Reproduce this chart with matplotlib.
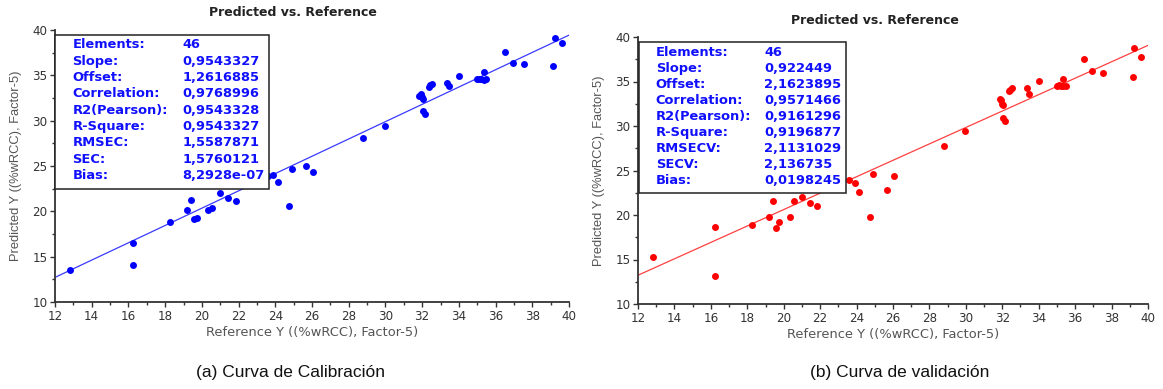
import numpy as np
import matplotlib.pyplot as plt
from matplotlib.patches import Rectangle
from matplotlib.ticker import MultipleLocator

# Valores de referencia (comunes a las dos curvas)
ref_y = [12.8, 16.25, 16.25, 18.25, 19.2, 19.4, 19.55, 19.75, 20.35, 20.55,
         21.0, 21.45, 21.85, 23.6, 23.9, 24.15, 24.75, 24.9, 25.65, 26.05,
         28.8, 29.95, 31.85, 31.95, 32.0, 32.05, 32.05, 32.15, 32.35, 32.45,
         32.55, 33.35, 33.45, 34.0, 35.0, 35.1, 35.2, 35.35, 35.35, 35.5,
         36.5, 36.95, 37.55, 39.15, 39.25, 39.6]

# Prediccion en calibracion
pred_cal = [13.5, 16.5, 14.1, 18.8, 20.1, 21.3, 19.15, 19.25, 20.2, 20.35,
            22.05, 21.45, 21.1, 23.9, 24.0, 23.2, 20.6, 24.65, 25.0, 24.35,
            28.1, 29.4, 32.75, 32.9, 32.6, 32.4, 31.05, 30.7, 33.7, 33.9,
            34.05, 34.2, 33.8, 34.95, 34.6, 34.65, 34.55, 35.35, 34.5, 34.6,
            37.55, 36.4, 36.25, 36.05, 39.1, 38.6]

# Prediccion en validacion
pred_val = [15.3, 18.65, 13.15, 18.9, 19.8, 21.6, 18.5, 19.2, 19.8, 21.6,
            22.0, 21.4, 21.0, 23.95, 23.55, 22.55, 19.75, 24.6, 22.8, 24.35,
            27.75, 29.4, 33.0, 32.9, 32.5, 32.35, 30.9, 30.6, 33.9, 34.1,
            34.3, 34.3, 33.65, 35.1, 34.55, 34.6, 34.5, 35.3, 34.45, 34.45,
            37.55, 36.15, 36.0, 35.45, 38.75, 37.8]

stat_names_cal = ['Elements:', 'Slope:', 'Offset:', 'Correlation:', 'R2(Pearson):',
                  'R-Square:', 'RMSEC:', 'SEC:', 'Bias:']
stat_vals_cal = ['46', '0,9543327', '1,2616885', '0,9768996', '0,9543328',
                 '0,9543327', '1,5587871', '1,5760121', '8,2928e-07']
stat_names_val = ['Elements:', 'Slope:', 'Offset:', 'Correlation:', 'R2(Pearson):',
                  'R-Square:', 'RMSECV:', 'SECV:', 'Bias:']
stat_vals_val = ['46', '0,922449', '2,1623895', '0,9571466', '0,9161296',
                 '0,9196877', '2,1131029', '2,136735', '0,0198245']

slope_cal, offset_cal = 0.9543327, 1.2616885
slope_val, offset_val = 0.922449, 2.1623895

fig = plt.figure(figsize=(11.63, 3.89), dpi=100)


def panel(rect, pred, slope, offset, dot_col, line_col, names, vals, box, title_xy, caption, cap_x):
    ax = fig.add_axes(rect)
    ax.set_xlim(12, 40)
    ax.set_ylim(10, 40)
    xl = np.array([12, 40])
    ax.plot(xl, slope * xl + offset, color=line_col, lw=0.9, zorder=2)
    ax.plot(ref_y, pred, 'o', color=dot_col, ms=5, mec='none', zorder=3)

    for s in ['top', 'right']:
        ax.spines[s].set_visible(False)
    for s in ['left', 'bottom']:
        ax.spines[s].set_color('#333333')
        ax.spines[s].set_linewidth(1.3)
    ax.xaxis.set_major_locator(MultipleLocator(2))
    ax.xaxis.set_minor_locator(MultipleLocator(1))
    ax.yaxis.set_major_locator(MultipleLocator(5))
    ax.yaxis.set_minor_locator(MultipleLocator(2.5))
    ax.tick_params(which='major', direction='out', length=3.5, width=1, colors='#333333',
                   labelsize=8.6, pad=2)
    ax.tick_params(which='minor', direction='out', length=2.5, width=1, colors='#333333')

    ax.set_xlabel('Reference Y ((%wRCC), Factor-5)', fontsize=9.4, color='#555555', labelpad=2.5)
    ax.set_ylabel('Predicted Y ((%wRCC), Factor-5)', fontsize=9.3, color='#555555',
                  family='Liberation Sans')
    ax.yaxis.set_label_coords(box['ylab'], 0.5)

    # Cuadro de estadisticos
    x0, x1, yb, yt = box['rect']
    ax.add_patch(Rectangle((x0, yb), x1 - x0, yt - yb, transform=ax.transAxes,
                           facecolor='white', edgecolor='#222222', lw=1.1, zorder=5,
                           clip_on=False))
    for i, (n, v) in enumerate(zip(names, vals)):
        yy = box['row0'] - i * box['step']
        ax.text(box['lx'], yy, n, transform=ax.transAxes, color='#1010ff', fontsize=9.4,
                fontweight='bold', va='center', zorder=6)
        ax.text(box['vx'], yy, v, transform=ax.transAxes, color='#1010ff', fontsize=9.4,
                fontweight='bold', va='center', zorder=6)

    fig.text(title_xy[0], title_xy[1], 'Predicted vs. Reference', fontsize=9, fontweight='bold',
             color='#222222', ha='center', va='center')
    fig.text(cap_x, 0.043, caption, fontsize=12.5, family='Liberation Sans', color='#111111',
             ha='center', va='center')
    return ax


panel([55 / 1163, 1 - 302 / 389, 514 / 1163, 272 / 389], pred_cal, slope_cal, offset_cal,
      '#0000ff', '#3a3aff', stat_names_cal, stat_vals_cal,
      dict(rect=(0.0, 0.416, 0.415, 0.982), lx=0.034, vx=0.248, row0=0.945, step=0.0599,
           ylab=-0.064),
      (293 / 1163, 1 - 13 / 389), '(a) Curva de Calibración', 290 / 1163)

panel([638 / 1163, 1 - 304 / 389, 510 / 1163, 267 / 389], pred_val, slope_val, offset_val,
      '#ff0000', '#ff4040', stat_names_val, stat_vals_val,
      dict(rect=(0.002, 0.407, 0.415, 0.980), lx=0.035, vx=0.248, row0=0.941, step=0.0596,
           ylab=-0.064),
      (875 / 1163, 1 - 21 / 389), '(b) Curva de validación', 900 / 1163)

plt.savefig('out.png', dpi=100)
